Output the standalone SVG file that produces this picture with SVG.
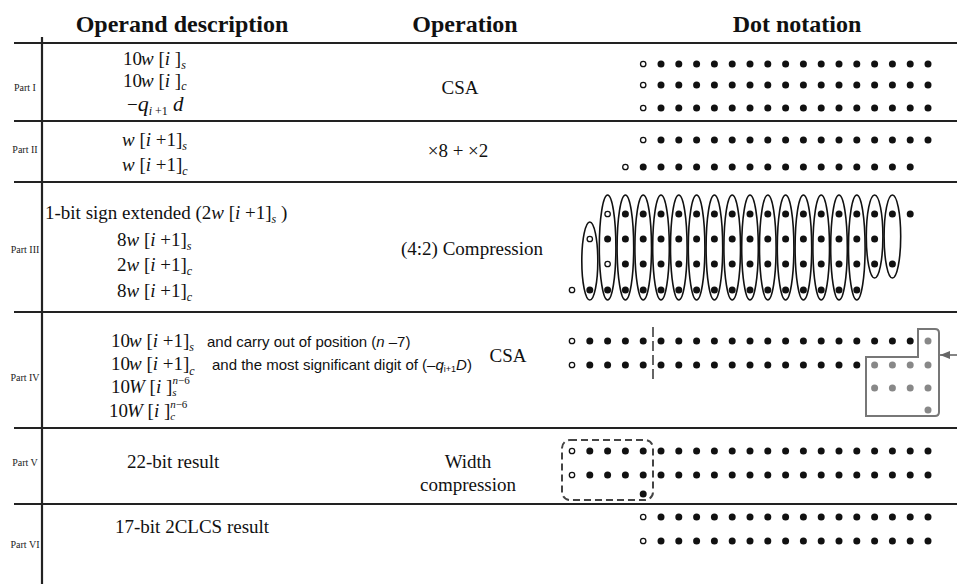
<svg xmlns="http://www.w3.org/2000/svg" width="957" height="584" viewBox="0 0 957 584">
  <defs>
    <style>
      .t{font-family:"Liberation Serif","Times New Roman",serif;font-size:19px;fill:#111}
      .h{font-family:"Liberation Serif","Times New Roman",serif;font-size:24px;font-weight:bold;fill:#111;text-anchor:middle}
      .p{font-family:"Liberation Serif","Times New Roman",serif;font-size:10px;fill:#222;text-anchor:middle}
      .s{font-family:"Liberation Sans",Arial,sans-serif;font-size:15px;fill:#111}
      .i{font-style:italic}
      .sb{font-size:12px;font-style:italic}
      .ss{font-size:11px;font-style:italic}
      .n{font-style:normal}
      .m{text-anchor:middle}
      .rule{stroke:#222;stroke-width:2.2;fill:none}
      .o{fill:#fff;stroke:#111;stroke-width:1.3}
      .g{fill:#888}
      .e{fill:none;stroke:#111;stroke-width:1.6}
      .dash{fill:none;stroke:#444;stroke-width:2;stroke-dasharray:7 4}
      .grp{fill:none;stroke:#777;stroke-width:2}
    </style>
    <circle id="dot" r="3.5" fill="#111"/>
    <circle id="od" r="2.7" class="o"/>
    <circle id="gd" r="3.5" class="g"/>
    <g id="r4"><use href="#dot"/><use href="#dot" x="17.8"/><use href="#dot" x="35.6"/><use href="#dot" x="53.4"/></g>
    <g id="r8"><use href="#r4"/><use href="#r4" x="71.2"/></g>
    <g id="r16"><use href="#r8"/><use href="#r8" x="142.4"/></g>
    <ellipse id="tall" rx="8.3" ry="52.5" class="e"/>
    <marker id="arr" viewBox="0 0 10 8" refX="10" refY="4" markerWidth="10" markerHeight="8" markerUnits="userSpaceOnUse" orient="auto">
      <path d="M0,0 L10,4 L0,8 Z" fill="#666"/>
    </marker>
  </defs>

  <rect width="957" height="584" fill="#fff"/>

  <!-- column headings -->
  <g id="headings">
    <text class="h" x="182" y="32">Operand description</text>
    <text class="h" x="465" y="32">Operation</text>
    <text class="h" x="797" y="32">Dot notation</text>
  </g>

  <!-- table rules -->
  <g id="rules">
    <line class="rule" x1="42" y1="37" x2="42" y2="584"/>
    <line class="rule" x1="14" y1="43" x2="957" y2="43"/>
    <line class="rule" x1="14" y1="121" x2="957" y2="121"/>
    <line class="rule" x1="14" y1="182" x2="957" y2="182"/>
    <line class="rule" x1="14" y1="312" x2="957" y2="312"/>
    <line class="rule" x1="14" y1="428" x2="957" y2="428"/>
    <line class="rule" x1="14" y1="504" x2="957" y2="504"/>
  </g>

  <!-- Part I -->
  <g id="part1">
    <text class="p" x="25" y="91">Part I</text>
    <text class="t" x="123" y="65">10<tspan class="i" dx="-1">w</tspan> [<tspan class="i">i</tspan> ]<tspan class="sb" dy="4">s</tspan></text>
    <text class="t" x="123" y="87">10<tspan class="i" dx="-1">w</tspan> [<tspan class="i">i</tspan> ]<tspan class="sb" dy="3">c</tspan></text>
    <text class="t" x="127" y="111">−<tspan class="i" font-size="22">q</tspan><tspan class="sb" dy="4">i <tspan class="n">+1</tspan></tspan><tspan class="i" font-size="21" dy="-4"> d</tspan></text>
    <text class="t m" x="460" y="94">CSA</text>
    <use href="#od" x="643.2" y="64"/><use href="#r16" x="661" y="64"/>
    <use href="#od" x="643.2" y="85"/><use href="#r16" x="661" y="85"/>
    <use href="#od" x="643.2" y="108"/><use href="#r16" x="661" y="108"/>
  </g>

  <!-- Part II -->
  <g id="part2">
    <text class="p" x="25" y="153">Part II</text>
    <text class="t" x="122" y="146"><tspan class="i">w</tspan> [<tspan class="i">i</tspan> +1]<tspan class="sb" dy="4">s</tspan></text>
    <text class="t" x="122" y="171"><tspan class="i">w</tspan> [<tspan class="i">i</tspan> +1]<tspan class="sb" dy="4">c</tspan></text>
    <text class="t m" x="458" y="157">×8 + ×2</text>
    <use href="#od" x="643.2" y="140"/><use href="#r16" x="661" y="140"/>
    <use href="#od" x="625.4" y="167"/><use href="#r16" x="643.2" y="167"/>
  </g>

  <!-- Part III -->
  <g id="part3">
    <text class="p" x="25" y="253">Part III</text>
    <text class="t" x="45" y="219">1-bit sign extended (2<tspan class="i">w</tspan> [<tspan class="i">i</tspan> +1]<tspan class="sb" dy="4">s</tspan><tspan dy="-4"> )</tspan></text>
    <text class="t" x="117" y="246">8<tspan class="i">w</tspan> [<tspan class="i">i</tspan> +1]<tspan class="sb" dy="4">s</tspan></text>
    <text class="t" x="117" y="271">2<tspan class="i">w</tspan> [<tspan class="i">i</tspan> +1]<tspan class="sb" dy="4">c</tspan></text>
    <text class="t" x="117" y="297">8<tspan class="i">w</tspan> [<tspan class="i">i</tspan> +1]<tspan class="sb" dy="4">c</tspan></text>
    <text class="t m" x="472" y="255">(4:2) Compression</text>
    <!-- 4:2 compressor groupings -->
    <ellipse class="e" cx="589.8" cy="261" rx="8" ry="39"/>
    <use href="#tall" x="607.6" y="247.5"/><use href="#tall" x="625.4" y="247.5"/>
    <use href="#tall" x="643.2" y="247.5"/><use href="#tall" x="661" y="247.5"/>
    <use href="#tall" x="678.8" y="247.5"/><use href="#tall" x="696.6" y="247.5"/>
    <use href="#tall" x="714.4" y="247.5"/><use href="#tall" x="732.2" y="247.5"/>
    <use href="#tall" x="750" y="247.5"/><use href="#tall" x="767.8" y="247.5"/>
    <use href="#tall" x="785.6" y="247.5"/><use href="#tall" x="803.4" y="247.5"/>
    <use href="#tall" x="821.2" y="247.5"/><use href="#tall" x="839" y="247.5"/>
    <use href="#tall" x="856.8" y="247.5"/>
    <ellipse class="e" cx="874.6" cy="236.5" rx="8.3" ry="41.5"/>
    <ellipse class="e" cx="892.4" cy="236.5" rx="8.3" ry="41.5"/>
    <use href="#od" x="607.6" y="214"/><use href="#r16" x="625.4" y="214"/><use href="#dot" x="910.2" y="214"/>
    <use href="#od" x="589.8" y="239"/><use href="#r16" x="607.6" y="239"/>
    <use href="#od" x="607.6" y="264"/><use href="#r16" x="625.4" y="264"/>
    <use href="#od" x="572" y="290"/><use href="#r16" x="589.8" y="290"/>
  </g>

  <!-- Part IV -->
  <g id="part4">
    <text class="p" x="25" y="381">Part IV</text>
    <text class="t" x="111" y="347">10<tspan class="i" dx="-1">w</tspan> [<tspan class="i">i</tspan> +1]<tspan class="sb" dy="4">s</tspan></text>
    <text class="s" x="207" y="347">and carry out of position (<tspan class="i">n</tspan> –7)</text>
    <text class="t" x="111" y="370">10<tspan class="i" dx="-1">w</tspan> [<tspan class="i">i</tspan> +1]<tspan class="sb" dy="5">c</tspan></text>
    <text class="s" x="212" y="370">and the most significant digit of (–<tspan class="i">q</tspan><tspan font-size="9" dy="2">i+1</tspan><tspan class="i" dy="-2">D</tspan>)</text>
    <text class="t" x="111" y="393">10<tspan class="i" dx="-1">W</tspan> [<tspan class="i">i</tspan> ]<tspan class="ss" dy="3">s</tspan><tspan class="ss" dx="-4" dy="-12">n<tspan class="n">−6</tspan></tspan></text>
    <text class="t" x="109" y="417">10<tspan class="i" dx="-1">W</tspan> [<tspan class="i">i</tspan> ]<tspan class="ss" dy="3">c</tspan><tspan class="ss" dx="-5" dy="-12">n<tspan class="n">−6</tspan></tspan></text>
    <text class="t m" x="508" y="362">CSA</text>
    <line x1="653" y1="327" x2="653" y2="383" stroke="#555" stroke-width="1.8" stroke-dasharray="10 4"/>
    <use href="#od" x="572" y="341"/><use href="#r4" x="589.8" y="341"/><use href="#r8" x="661" y="341"/><use href="#r4" x="803.4" y="341"/>
    <use href="#dot" x="874.6" y="341"/><use href="#dot" x="892.4" y="341"/><use href="#dot" x="910.2" y="341"/>
    <use href="#od" x="572" y="365"/><use href="#r4" x="589.8" y="365"/><use href="#r8" x="661" y="365"/><use href="#r4" x="803.4" y="365"/>
    <!-- most significant digit block -->
    <path class="grp" d="M866,357 H918 V329 H935 Q939,329 939,333 V412 Q939,416 935,416 H866 Z"/>
    <use href="#gd" x="928" y="341"/>
    <use href="#gd" x="874.6" y="365"/><use href="#gd" x="892.4" y="365"/><use href="#gd" x="910.2" y="365"/><use href="#gd" x="928" y="365"/>
    <use href="#gd" x="874.6" y="388"/><use href="#gd" x="892.4" y="388"/><use href="#gd" x="910.2" y="388"/><use href="#gd" x="928" y="388"/>
    <use href="#gd" x="928" y="410"/>
  </g>

  <!-- Part V -->
  <g id="part5">
    <text class="p" x="25" y="466">Part V</text>
    <text class="t" x="127" y="468">22-bit result</text>
    <text class="t m" x="468" y="468">Width</text>
    <text class="t m" x="468" y="491">compression</text>
    <rect class="dash" x="562" y="440" width="91" height="60" rx="8"/>
    <use href="#od" x="572" y="451"/><use href="#r16" x="589.8" y="451"/><use href="#r4" x="874.6" y="451"/>
    <use href="#od" x="572" y="475"/><use href="#r16" x="589.8" y="475"/><use href="#r4" x="874.6" y="475"/>
    <use href="#dot" x="643.2" y="494"/>
  </g>

  <!-- Part VI -->
  <g id="part6">
    <text class="p" x="25" y="548">Part VI</text>
    <text class="t" x="115" y="533">17-bit 2CLCS result</text>
    <use href="#od" x="643.2" y="517"/><use href="#r16" x="661" y="517"/>
    <use href="#od" x="643.2" y="541"/><use href="#r16" x="661" y="541"/>
  </g>

  <!-- connectors -->
  <g id="connectors">
    <line x1="957" y1="355" x2="940" y2="355" stroke="#666" stroke-width="1.6" marker-end="url(#arr)"/>
  </g>
</svg>
